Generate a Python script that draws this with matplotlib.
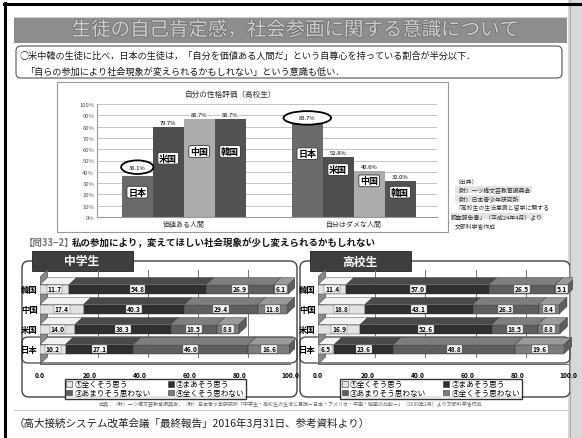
import matplotlib as mpl
mpl.use('Agg')
import matplotlib.pyplot as plt
import matplotlib.patheffects as pe
from matplotlib.patches import Rectangle, FancyBboxPatch, Ellipse, Polygon, Patch
from matplotlib.transforms import ScaledTranslation
import numpy as np

plt.rcParams['font.family'] = ['Noto Sans CJK JP', 'DejaVu Sans']

W, H = 582, 439

# 自分の性格評価（高校生）
countries = ['日本', '米国', '中国', '韓国']
groups = ['価値ある人間', '自分はダメな人間']
worth = [36.1, 79.7, 86.7, 86.7]
no_good = [83.7, 52.8, 40.6, 32.0]

# 問33-2 (rows from bottom: 日本, 米国, 中国, 韓国)
rows = ['日本', '米国', '中国', '韓国']
answers = ['①全くそう思う', '②まあそう思う', '③あまりそう思わない', '④全くそう思わない']
jr_japan = [10.2, 27.1, 46.0, 16.6]
jr_usa = [14.0, 38.3, 18.5, 8.8]
jr_china = [17.4, 40.3, 29.4, 11.8]
jr_korea = [11.7, 54.8, 26.9, 6.1]
hs_japan = [6.5, 23.6, 48.8, 19.6]
hs_usa = [16.9, 52.6, 18.5, 8.8]
hs_china = [18.8, 43.1, 26.3, 8.4]
hs_korea = [11.4, 57.0, 26.5, 5.1]
ticks = [0, 20, 40, 60, 80, 100]


def box(x0, y0, x1, y1):
    return [x0 / W, 1 - y1 / H, (x1 - x0) / W, (y1 - y0) / H]


fig = plt.figure(figsize=(W / 100, H / 100), dpi=100)
bg = fig.add_axes([0, 0, 1, 1], zorder=0)
bg.set_xlim(0, W)
bg.set_ylim(H, 0)
bg.axis('off')

# window frame and scroll strip
bg.add_patch(Rectangle((568, 0), 14, H, color='#d8d8d8', lw=0))
bg.plot([570, 570], [0, H], color='#aaaaaa', lw=0.8)
bg.plot([4, 582], [5, 5], color='black', lw=2.2)
bg.plot([5, 5], [4, H], color='black', lw=2.2)

# slide title bar
bg.add_patch(Rectangle((14, 18), 553, 26, color='#8e8e8e', lw=0))
bg.plot([14, 567], [18, 18], color='#cfcfcf', lw=0.8)
bg.text(296, 31, '生徒の自己肯定感，社会参画に関する意識について', ha='center', va='center',
        fontsize=14, color='#cdcdcd',
        path_effects=[pe.withStroke(linewidth=1.2, foreground='#727272')])

# summary box
bg.add_patch(FancyBboxPatch((16, 47), 546, 32, boxstyle='round,pad=0,rounding_size=5',
                            fc='white', ec='#555555', lw=0.8))
bg.text(19, 56, '○米中韓の生徒に比べ，日本の生徒は，「自分を価値ある人間だ」という自尊心を持っている割合が半分以下．',
        fontsize=6.6, va='center', color='#1a1a1a')
bg.text(25, 72, '「自らの参加により社会現象が変えられるかもしれない」という意識も低い．',
        fontsize=6.6, va='center', color='#1a1a1a')

# chart frame
bg.add_patch(Rectangle((57, 83), 391, 150, fc='white', ec='#999999', lw=0.8))
bg.text(230, 95, '自分の性格評価（高校生）', ha='center', va='center', fontsize=5.5, color='#333333')

ax = fig.add_axes(box(97, 105, 437, 218), zorder=2)
ax.patch.set_alpha(0)
x = np.arange(len(groups))
bw = 0.182
bar_colors = ['#6a6a6a', '#4e4e4e', '#acacac', '#535353']
name_pos = [[22, 56], [52, 42], [58, 32], [58, 22]]
for i, c in enumerate(countries):
    vals = [worth[i], no_good[i]]
    xs = x + (i - 1.5) * bw
    ax.bar(xs, vals, bw, color=bar_colors[i], zorder=2)
    for j in range(2):
        ax.text(xs[j], name_pos[i][j], c, ha='center', va='center', fontsize=6.5,
                fontweight='bold', color='black', zorder=4,
                bbox=dict(boxstyle='round,pad=0.15,rounding_size=0.2', fc='white', ec='#333333', lw=0.6))
        if i == 0:
            yv = vals[j] + (8 if j == 0 else 4)
            ew = 0.19 if j == 0 else 0.28
            ax.add_patch(Ellipse((xs[j], yv), ew, 12, fc='white', ec='black', lw=1.3, zorder=3))
            ax.text(xs[j], yv, f'{vals[j]:.1f}%', ha='center', va='center', fontsize=4.2, zorder=4)
        else:
            ax.text(xs[j], vals[j] + 4, f'{vals[j]:.1f}%', ha='center', va='center', fontsize=4.2,
                    zorder=4, bbox=dict(boxstyle='square,pad=0.1', fc='white', ec='none'))
ax.set_xlim(-0.51, 1.49)
ax.set_ylim(0, 100)
ax.set_yticks(range(0, 101, 10))
ax.set_yticklabels([f'{v}%' for v in range(0, 101, 10)], fontsize=4.2, color='#555555')
ax.set_xticks(x)
ax.set_xticklabels(groups, fontsize=5, color='#333333')
ax.tick_params(length=0, pad=2)
ax.yaxis.grid(True, color='#c4c4c4', lw=0.7, zorder=0)
for s in ['top', 'right']:
    ax.spines[s].set_visible(False)
ax.spines['left'].set_color('#999999')
ax.spines['bottom'].set_color('#999999')

# source note beside the chart
src = ['（出典）', '（財）一ツ橋文芸教育振興会', '（財）日本青少年研究所',
       '「高校生の生活意識と留学に関する', '調査報告書」（平成24年4月）より', '文部科学省作成']
for k, line in enumerate(src):
    bg.text(455 if k != 4 else 451, 182 + k * 8.8, line, fontsize=4.2, va='center', color='#333333',
            bbox=dict(boxstyle='square,pad=0.05', fc='#e4e4e4', ec='none') if k in (1, 2, 4) else None)

bg.text(24, 243, '【問33−2】', fontsize=6.8, va='center', color='#777777', fontweight='bold')
bg.text(72, 243, '私の参加により，変えてほしい社会現象が少し変えられるかもしれない',
        fontsize=6.8, va='center', color='#111111', fontweight='bold')

seg_colors = ['#e2e2e2', '#2f2f2f', '#5e5e5e', '#7c7c7c']
top_colors = ['#f2f2f2', '#4a4a4a', '#7e7e7e', '#9a9a9a']
side_colors = ['#bdbdbd', '#202020', '#444444', '#5e5e5e']


def draw_panel(ax, data, title, x0, x1):
    # rounded panel, tab and highlighted 日本 row
    bg.add_patch(FancyBboxPatch((x0, 262), x1 - x0, 136, boxstyle='round,pad=0,rounding_size=7',
                                fc='white', ec='#444444', lw=1.0))
    bg.add_patch(FancyBboxPatch((x0, 338), x1 - x0, 26, boxstyle='round,pad=0,rounding_size=6',
                                fc='none', ec='#444444', lw=0.9, zorder=3))
    bg.add_patch(Rectangle((x0 + 10, 252), 101, 20, fc='#3e3e3e', ec='#222222', lw=0.6))
    bg.text(x0 + 60, 262, title, ha='center', va='center', fontsize=8.5, color='white',
            fontweight='bold')

    dx, dy, h = 3.0, 0.35, 0.45
    # back wall and grid
    ax.add_patch(Polygon([(0, -0.75), (dx, -0.75 + dy), (dx, 3.95), (0, 3.95 - dy)],
                         fc='#8a8a8a', ec='#555555', lw=0.5, zorder=1))
    for t in ticks[1:]:
        ax.plot([t + dx, t + dx], [-0.75 + dy, 3.95], color='#777777', lw=0.7, zorder=1)
    ax.plot([0, 100], [-0.75, -0.75], color='#666666', lw=0.7, zorder=1)
    for r, vals in enumerate(data):
        left = 0
        for k, v in enumerate(vals):
            ax.barh(r, v, h, left=left, color=seg_colors[k], ec='#333333', lw=0.3, zorder=2)
            ax.add_patch(Polygon([(left, r + h / 2), (left + v, r + h / 2),
                                  (left + v + dx, r + h / 2 + dy), (left + dx, r + h / 2 + dy)],
                                 fc=top_colors[k], ec='#333333', lw=0.3, zorder=2))
            ax.text(left + v / 2, r, f'{v:.1f}', ha='center', va='center', fontsize=4.8,
                    fontweight='bold', zorder=4,
                    bbox=dict(boxstyle='square,pad=0.12', fc='white', ec='#555555', lw=0.3))
            left += v
        ax.add_patch(Polygon([(left, r - h / 2), (left + dx, r - h / 2 + dy),
                              (left + dx, r + h / 2 + dy), (left, r + h / 2)],
                             fc=side_colors[3], ec='#333333', lw=0.3, zorder=2))
    ax.set_xlim(0, 102)
    ax.set_ylim(-1, 4)
    ax.set_yticks(range(len(rows)))
    ax.set_yticklabels(rows, fontsize=6, fontweight='bold')
    ax.set_xticks(ticks)
    ax.set_xticklabels([f'{t:.1f}' for t in ticks], fontsize=4.8, fontweight='bold')
    for lab in ax.get_xticklabels():
        lab.set_transform(lab.get_transform() + ScaledTranslation(-0.1, 0, fig.dpi_scale_trans))
    ax.tick_params(length=0, pad=1.5)
    for s in ax.spines.values():
        s.set_visible(False)
    ax.patch.set_alpha(0)
    handles = [Patch(fc=seg_colors[k], ec='#333333', lw=0.4, label=answers[k]) for k in (0, 2, 1, 3)]
    ax.legend(handles=handles, ncol=2, loc='upper center', fontsize=5.5,
              bbox_to_anchor=((x0 + x1) / 2 - 4, 376), bbox_transform=bg.transData,
              frameon=True, fancybox=False, edgecolor='black', borderpad=0.2,
              handlelength=0.8, handleheight=0.8, handletextpad=0.3, columnspacing=2.2,
              labelspacing=0.1)


ax2 = fig.add_axes(box(40, 270, 295, 370), zorder=2)
draw_panel(ax2, [jr_japan, jr_usa, jr_china, jr_korea], '中学生', 22, 297)
ax3 = fig.add_axes(box(318, 270, 573, 370), zorder=2)
draw_panel(ax3, [hs_japan, hs_usa, hs_china, hs_korea], '高校生', 300, 570)

bg.text(290, 404, '出典：（財）一ツ橋文芸教育振興会，（財）日本青少年研究所「中学生・高校生の生活と意識－日本・アメリカ・中国・韓国の比較－」（2009年2月）より文部科学省作成',
        ha='center', va='center', fontsize=3.6, color='#666666')
bg.plot([14, 567], [411, 411], color='#bbbbbb', lw=0.6)
bg.text(14, 423, '（高大接続システム改革会議「最終報告」2016年3月31日、参考資料より）',
        fontsize=7.6, va='center', color='#222222')

fig.savefig('out.png', dpi=100)
